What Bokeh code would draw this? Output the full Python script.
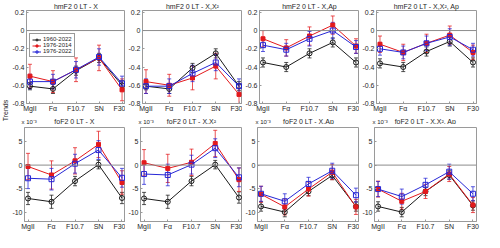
import math
from bokeh.plotting import figure
from bokeh.models import (ColumnDataSource, Whisker, TeeHead, Span, FixedTicker,
                          Label, Legend, LegendItem, Range1d)
from bokeh.layouts import row, column
from bokeh.embed import file_html
from bokeh.resources import INLINE

# ---------------- data ----------------
CATEGORIES = ["MgII", "Fα", "F10.7", "SN", "F30"]
X_POS = [1, 2, 3, 4, 5]
SERIES = ["1960-2022", "1976-2014", "1976-2022"]
COLORS = ["#1a1a1a", "#e3191c", "#2626d6"]

TITLES_TOP = ["hmF2 0 LT - X", "hmF2 0 LT - X,X²", "hmF2 0 LT - X,Ap", "hmF2 0 LT - X,X², Ap"]
TITLES_BOTTOM = ["foF2 0 LT - X", "foF2 0 LT - X,X²", "foF2 0 LT - X,Ap", "foF2 0 LT - X,X², Ap"]
SCALE_TEXT = "x 10⁻³"
Y_LABEL = "Trends"

# hmF2 trends (series order: 1960-2022, 1976-2014, 1976-2022)
HM_X = [[-0.61, -0.64, -0.44, -0.30, -0.60],
        [-0.50, -0.56, -0.43, -0.30, -0.65],
        [-0.56, -0.56, -0.43, -0.29, -0.58]]
HM_XX2 = [[-0.61, -0.64, -0.41, -0.25, -0.61],
          [-0.56, -0.60, -0.52, -0.39, -0.70],
          [-0.61, -0.61, -0.47, -0.35, -0.61]]
HM_XAP = [[-0.35, -0.40, -0.25, -0.13, -0.35],
          [-0.09, -0.19, -0.06, 0.06, -0.17],
          [-0.16, -0.21, -0.09, 0.00, -0.18]]
HM_XX2AP = [[-0.36, -0.40, -0.23, -0.12, -0.35],
            [-0.15, -0.24, -0.14, -0.05, -0.24],
            [-0.20, -0.24, -0.14, -0.07, -0.21]]
HM_ERR_X = [[0.04, 0.05, 0.05, 0.05, 0.05],
            [0.13, 0.12, 0.13, 0.14, 0.12],
            [0.08, 0.08, 0.09, 0.09, 0.08]]
HM_ERR_AP = [[0.05, 0.05, 0.05, 0.05, 0.05],
             [0.09, 0.09, 0.10, 0.10, 0.08],
             [0.07, 0.07, 0.08, 0.09, 0.07]]

# foF2 trends, in units of 1e-3
FO_X = [[-7.1, -7.8, -3.4, 0.1, -7.0],
        [-0.3, -2.1, 0.9, 4.4, -3.7],
        [-2.8, -3.0, 0.3, 3.2, -2.7]]
FO_XX2 = [[-7.1, -7.8, -3.4, 0.1, -6.9],
          [0.5, -0.7, 0.6, 4.6, -3.1],
          [-1.9, -2.1, 0.1, 3.6, -2.6]]
FO_XAP = [[-8.8, -10.0, -5.6, -2.2, -8.8],
          [-6.2, -8.9, -5.1, -1.5, -8.9],
          [-6.1, -7.7, -4.0, -1.2, -6.4]]
FO_XX2AP = [[-8.8, -10.0, -5.6, -2.1, -8.6],
            [-5.1, -7.7, -5.6, -1.9, -8.5],
            [-5.1, -6.7, -4.2, -1.4, -6.1]]
FO_ERR_X = [[1.3, 1.4, 1.0, 0.9, 1.2],
            [2.8, 3.0, 2.8, 2.8, 2.5],
            [2.2, 2.3, 2.0, 2.0, 2.0]]
FO_ERR_AP = [[1.0, 1.0, 0.9, 0.9, 1.0],
             [1.7, 1.7, 1.5, 1.6, 1.6],
             [1.6, 1.6, 1.4, 1.6, 1.5]]

HM_TICKS = [-0.8, -0.6, -0.4, -0.2, 0.0, 0.2]
HM_TICK_LABELS = ["-0.8", "-0.6", "-0.4", "-0.2", "0", "0.2"]
FO_TICKS = [-10, -5, 0, 5]
FO_TICK_LABELS = ["-10", "-5", "0", "5"]

FONT = "Liberation Sans"
AXIS_GRAY = "#9a9a9a"
TEXT = "#262626"


def make_panel(title, values, errors, yr, yticks, ylabels, width, height,
               left, right, top, legend=False):
    p = figure(width=width, height=height, output_backend="svg", toolbar_location=None,
               x_range=Range1d(0.85, 5.15), y_range=Range1d(*yr),
               min_border_left=left, min_border_right=right,
               min_border_top=top, min_border_bottom=0)
    if title:
        p.title.text = title
        p.title.text_font = FONT
        p.title.text_font_size = "7px"
        p.title.text_font_style = "normal"
        p.title.text_color = TEXT
        p.title.align = "center"
        p.title.standoff = 1
        p.title.offset = 0
        p.title.text_line_height = 1.0
    p.xgrid.visible = False
    p.ygrid.visible = False
    p.outline_line_color = AXIS_GRAY
    p.outline_line_width = 1
    p.background_fill_color = "white"
    p.border_fill_color = "white"

    p.xaxis.ticker = FixedTicker(ticks=X_POS, minor_ticks=[])
    p.xaxis.major_label_overrides = {x: c for x, c in zip(X_POS, CATEGORIES)}
    p.yaxis.ticker = FixedTicker(ticks=yticks, minor_ticks=[])
    p.yaxis.major_label_overrides = {t: l for t, l in zip(yticks, ylabels)}
    for ax in (p.xaxis[0], p.yaxis[0]):
        ax.axis_label = None
        ax.axis_label_standoff = 0
        ax.axis_line_color = AXIS_GRAY
        ax.major_tick_line_color = AXIS_GRAY
        ax.major_tick_in = 2
        ax.major_tick_out = 0
        ax.minor_tick_in = 0
        ax.minor_tick_out = 0
        ax.minor_tick_line_color = None
        ax.major_label_text_font = FONT
        ax.major_label_text_font_size = "7px"
        ax.major_label_text_color = TEXT
        ax.major_label_text_line_height = 1.0
        ax.major_label_standoff = 2
    p.xaxis.major_label_standoff = 1

    p.add_layout(Span(location=0, dimension="width", line_color="#8c8c8c", line_width=1))

    items = []
    for i in range(3):
        vals = values[i]
        errs = errors[i]
        src = ColumnDataSource(dict(
            x=X_POS, y=vals,
            lo=[v - e for v, e in zip(vals, errs)],
            hi=[v + e for v, e in zip(vals, errs)]))
        c = COLORS[i]
        w = Whisker(source=src, base="x", upper="hi", lower="lo", dimension="height",
                    line_color=c, line_width=1, line_alpha=0.75,
                    upper_head=TeeHead(size=4, line_color=c, line_width=1, line_alpha=0.75),
                    lower_head=TeeHead(size=4, line_color=c, line_width=1, line_alpha=0.75))
        p.add_layout(w)
        ln = p.line("x", "y", source=src, line_color=c, line_width=1)
        if i == 0:
            mk = p.scatter("x", "y", source=src, marker="circle", size=5,
                           line_color=c, fill_color=None, line_width=1)
        elif i == 1:
            mk = p.scatter("x", "y", source=src, marker="square", size=4,
                           line_color=c, fill_color=c, line_width=1)
        else:
            mk = p.scatter("x", "y", source=src, marker="square", size=5,
                           line_color=c, fill_color=None, line_width=1)
        items.append(LegendItem(label=SERIES[i], renderers=[ln, mk]))

    if legend:
        lg = Legend(items=items, location=(3, 46))
        lg.label_text_font = FONT
        lg.label_text_font_size = "6px"
        lg.label_text_color = TEXT
        lg.label_height = 5
        lg.label_standoff = 2
        lg.glyph_width = 9
        lg.glyph_height = 5
        lg.spacing = 0
        lg.padding = 2
        lg.margin = 0
        lg.border_line_color = "#333333"
        lg.border_line_width = 1
        lg.background_fill_alpha = 1
        p.add_layout(lg, "center")
    return p


FRAME_W = 102
lefts = [14, 15, 15, 15]
rights = [0, 0, 0, 6]
widths = [l + FRAME_W + r for l, r in zip(lefts, rights)]
TOTAL_W = sum(widths)

TOP_H = 114
STRIP_H = 10
BOT_H = 108

top_vals = [HM_X, HM_XX2, HM_XAP, HM_XX2AP]
top_errs = [HM_ERR_X, HM_ERR_X, HM_ERR_AP, HM_ERR_AP]
bot_vals = [FO_X, FO_XX2, FO_XAP, FO_XX2AP]
bot_errs = [FO_ERR_X, FO_ERR_X, FO_ERR_AP, FO_ERR_AP]

top_row = []
bot_row = []
for k in range(4):
    top_row.append(make_panel(TITLES_TOP[k], top_vals[k], top_errs[k], (-0.8, 0.22),
                              HM_TICKS, HM_TICK_LABELS, widths[k], TOP_H,
                              lefts[k], rights[k], 0, legend=(k == 0)))
    bot_row.append(make_panel(None, bot_vals[k], bot_errs[k], (-12, 8),
                              FO_TICKS, FO_TICK_LABELS, widths[k], BOT_H,
                              lefts[k], rights[k], 3))

# strip holding the titles and scale factors of the lower panels
strip = figure(width=TOTAL_W, height=STRIP_H, output_backend="svg", toolbar_location=None,
               x_range=Range1d(0, TOTAL_W), y_range=Range1d(0, STRIP_H),
               min_border=0, x_axis_type=None, y_axis_type=None)
strip.outline_line_color = None
strip.xgrid.visible = False
strip.ygrid.visible = False
x0 = 0
for k in range(4):
    frame_left = x0 + lefts[k]
    strip.add_layout(Label(x=frame_left + FRAME_W / 2, y=STRIP_H / 2, text=TITLES_BOTTOM[k],
                           text_font=FONT, text_font_size="7px", text_color=TEXT,
                           text_align="center", text_baseline="middle"))
    strip.add_layout(Label(x=frame_left - 2, y=STRIP_H / 2, text=SCALE_TEXT,
                           text_font=FONT, text_font_size="6px", text_color=TEXT,
                           text_align="left", text_baseline="middle"))
    x0 += widths[k]

# shared y label
lab = figure(width=9, height=TOP_H + STRIP_H + BOT_H, output_backend="svg",
             toolbar_location=None, x_range=Range1d(0, 1),
             y_range=Range1d(0, TOP_H + STRIP_H + BOT_H),
             min_border=0, x_axis_type=None, y_axis_type=None)
lab.outline_line_color = None
lab.xgrid.visible = False
lab.ygrid.visible = False
lab.add_layout(Label(x=0.5, y=122, text=Y_LABEL, angle=math.pi / 2, text_font=FONT,
                     text_font_size="7px", text_color=TEXT, text_align="center",
                     text_baseline="middle"))

layout = row(lab, column(row(*top_row), strip, row(*bot_row)))

with open("out.html", "w") as f:
    f.write(file_html(layout, INLINE))
